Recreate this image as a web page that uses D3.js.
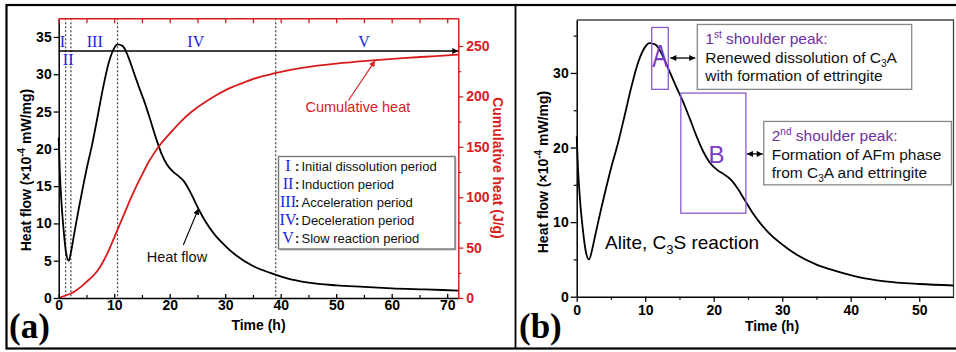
<!DOCTYPE html>
<html>
<head>
<meta charset="utf-8">
<script src="https://cdn.jsdelivr.net/npm/d3@7"></script>
<style>
  body { margin: 0; background: #fff; }
  svg { display: block; }
</style>
</head>
<body>
<svg id="chart" width="956" height="352"></svg>
<script>
// ---- data ----------------------------------------------------------
// Isothermal calorimetry of alite: heat flow (x10^-4 mW/mg) vs time (h)
const hours    = [0, 0.2, 0.5, 0.9, 1.3, 1.8, 2.3, 2.7, 3.2, 3.7, 4.3, 5, 6, 7, 8, 9, 10, 10.6, 11.5, 12.5,
                  13.5, 14.5, 15.5, 16.5, 17.5, 18.5, 19.5, 20.5, 21.5, 22.5, 23.5, 24.5, 25.5, 26.5, 28, 30,
                  32, 35, 38, 41, 45, 50, 55, 60, 66, 72];
const heatFlow = [21.5, 17, 12.8, 9.0, 6.2, 5.0, 6.5, 8.2, 10.3, 12.3, 14.6, 17.2, 20.5, 24.3, 28.2, 31.5, 33.5, 34.0, 33.8, 32.4,
                  30.3, 28.2, 26.2, 23.9, 21.5, 19.4, 17.9, 17.0, 16.4, 15.7, 14.5, 13.0, 11.5, 10.2, 8.6, 7.0,
                  5.7, 4.3, 3.4, 2.65, 2.05, 1.7, 1.5, 1.3, 1.15, 1.0];

// Cumulative heat (J/g) vs time (h)
const cumHours = [0, 1, 2.2, 3, 4, 5, 6, 7, 8, 9, 10, 11, 12, 13, 14, 15, 16, 17, 18, 20, 22, 24, 26, 28, 30,
                  33, 36, 39, 42, 46, 50, 56, 62, 68, 72];
const cumHeat  = [0, 2, 4.5, 7, 11, 16, 21, 27, 36, 47, 60, 73, 86, 99, 111, 122, 133, 142, 150, 163, 175, 185, 193, 200, 206,
                  213, 219, 223, 226.5, 230, 232.5, 235.5, 238, 240, 241.5];

// hydration period boundaries (h) and names
const periodBounds   = [1.25, 2.2, 10.6, 39.1];
const periodNumerals = ["I", "II", "III", "IV", "V"];
const periodNames    = ["Initial dissolution period", "Induction period", "Acceleration period",
                        "Deceleration period", "Slow reaction period"];

// tick values
const timeTicksA  = [0, 10, 20, 30, 40, 50, 60, 70];
const heatTicksA  = [0, 5, 10, 15, 20, 25, 30, 35];
const cumTicks    = [0, 50, 100, 150, 200, 250];
const timeTicksB  = [0, 10, 20, 30, 40, 50];
const heatTicksB  = [0, 10, 20, 30];

// ---- style ---------------------------------------------------------
const SANS  = '"Liberation Sans", Arial, Helvetica, sans-serif';
const SERIF = '"Liberation Serif", "Times New Roman", serif';
const RED = "#d81c1c";
const BLUE = "#2323e6";
const PURPLE = "#7030a0";
const BOXPURPLE = "#8a5cd0";

const svg = d3.select("#chart");
svg.append("rect").attr("width", 956).attr("height", 352).attr("fill", "#fff");

const defs = svg.append("defs");
function marker(id, color, w, h) {
  defs.append("marker")
    .attr("id", id)
    .attr("viewBox", "0 0 10 10")
    .attr("refX", 10).attr("refY", 5)
    .attr("markerWidth", w).attr("markerHeight", h)
    .attr("markerUnits", "userSpaceOnUse")
    .attr("orient", "auto-start-reverse")
    .append("path").attr("d", "M0,0L10,5L0,10Z").attr("fill", color);
}
marker("headBig", "#000", 10, 6);
marker("headSmall", "#000", 8, 6);
marker("headRed", RED, 8, 6);

function styleAxis(g, color) {
  g.attr("font-family", SANS).attr("font-size", 14).attr("font-weight", "bold");
  g.select(".domain").attr("stroke", color).attr("stroke-width", 1.5);
  g.selectAll(".tick line").attr("stroke", color).attr("stroke-width", 1.3);
  g.selectAll(".tick text").attr("fill", color);
}
function minorAxis(g, axis, color) {
  g.call(axis);
  g.select(".domain").remove();
  g.selectAll(".tick line").attr("stroke", color).attr("stroke-width", 1.2);
}

// "Heat flow (×10⁻⁴ mW/mg)" axis title
function heatTitle(g, x, y) {
  const t = g.append("text")
    .attr("transform", `translate(${x},${y}) rotate(-90)`)
    .attr("text-anchor", "middle")
    .attr("font-family", SANS).attr("font-size", 14).attr("font-weight", "bold")
    .attr("fill", "#000");
  t.append("tspan").text("Heat flow (\u00d710");
  t.append("tspan").attr("font-size", 10).attr("dy", -6).text("-4");
  t.append("tspan").attr("dy", 6).text(" mW/mg)");
}

// ---- outer frame -----------------------------------------------------
svg.append("rect").attr("x", 6.5).attr("y", 5).attr("width", 960).attr("height", 343.5)
  .attr("fill", "none").attr("stroke", "#000").attr("stroke-width", 2.2);
svg.append("line").attr("x1", 515.5).attr("x2", 515.5).attr("y1", 5).attr("y2", 348.5)
  .attr("stroke", "#000").attr("stroke-width", 1.8);

// ====================================================================
// Panel (a): heat flow + cumulative heat
// ====================================================================
const gA = svg.append("g");
const xA = d3.scaleLinear().domain([0, 72]).range([58.7, 458.3]);
const yA = d3.scaleLinear().domain([0, 37.5]).range([298, 18.3]);
const yC = d3.scaleLinear().domain([0, 277.5]).range([298, 18.3]);

// period boundaries
gA.selectAll(".bound").data(periodBounds).join("line")
  .attr("x1", d => xA(d)).attr("x2", d => xA(d))
  .attr("y1", yA.range()[1]).attr("y2", yA.range()[0])
  .attr("stroke", "#444").attr("stroke-width", 1.2).attr("stroke-dasharray", "2,2");

// period arrow
const arrowLevel = 33.1;
gA.append("line")
  .attr("x1", xA(0)).attr("x2", xA(72))
  .attr("y1", yA(arrowLevel)).attr("y2", yA(arrowLevel))
  .attr("stroke", "#000").attr("stroke-width", 1.5)
  .attr("marker-end", "url(#headBig)");

// period numerals along the arrow
const numeralTimes = [0.65, 1.7, 6.5, 24.7, 55];
const numeralBelow = [false, true, false, false, false];
gA.selectAll(".numeral").data(periodNumerals).join("text")
  .attr("x", (d, i) => xA(numeralTimes[i]))
  .attr("y", (d, i) => yA(arrowLevel) + (numeralBelow[i] ? 13.5 : -4.5))
  .attr("text-anchor", "middle")
  .attr("font-family", SERIF).attr("font-size", 16)
  .attr("fill", BLUE)
  .text(d => d);

// curves
const heatLineA = d3.line()
  .x((d, i) => xA(hours[i])).y(d => yA(d))
  .curve(d3.curveMonotoneX);
gA.append("path").attr("d", heatLineA(heatFlow))
  .attr("fill", "none").attr("stroke", "#000").attr("stroke-width", 1.8);

const cumLine = d3.line()
  .x((d, i) => xA(cumHours[i])).y(d => yC(d))
  .curve(d3.curveMonotoneX);
gA.append("path").attr("d", cumLine(cumHeat))
  .attr("fill", "none").attr("stroke", RED).attr("stroke-width", 1.8);

// axes
const axBottomA = gA.append("g").attr("transform", `translate(0,${yA(0)})`)
  .call(d3.axisBottom(xA).tickValues(timeTicksA).tickSizeInner(-4).tickSizeOuter(0).tickPadding(2));
styleAxis(axBottomA, "#000");
minorAxis(gA.append("g").attr("transform", `translate(0,${yA(0)})`),
  d3.axisBottom(xA).tickValues(d3.range(5, 72, 10)).tickSize(-3).tickFormat(""), "#000");

const axLeftA = gA.append("g").attr("transform", `translate(${xA(0)},0)`)
  .call(d3.axisLeft(yA).tickValues(heatTicksA).tickSizeInner(5).tickSizeOuter(0).tickPadding(2));
styleAxis(axLeftA, "#000");

const axTopA = gA.append("g").attr("transform", `translate(0,${yA.range()[1]})`)
  .call(d3.axisTop(xA).tickValues(d3.range(0, 72, 5)).tickSizeInner(-5).tickSizeOuter(0).tickFormat(""));
styleAxis(axTopA, RED);

const axRightA = gA.append("g").attr("transform", `translate(${xA(72)},0)`)
  .call(d3.axisRight(yC).tickValues(cumTicks).tickSizeInner(5).tickSizeOuter(0).tickPadding(3));
styleAxis(axRightA, RED);
minorAxis(gA.append("g").attr("transform", `translate(${xA(72)},0)`),
  d3.axisRight(yC).tickValues(d3.range(25, 250, 50)).tickSize(3).tickFormat(""), RED);

// axis titles
heatTitle(gA, 31, 170);
gA.append("text")
  .attr("x", (xA(0) + xA(72)) / 2).attr("y", 330)
  .attr("text-anchor", "middle")
  .attr("font-family", SANS).attr("font-size", 14).attr("font-weight", "bold")
  .text("Time (h)");
gA.append("text")
  .attr("transform", `translate(493,168) rotate(90)`)
  .attr("text-anchor", "middle")
  .attr("font-family", SANS).attr("font-size", 14).attr("font-weight", "bold")
  .attr("fill", RED)
  .text("Cumulative heat (J/g)");

// curve labels with pointers
gA.append("text")
  .attr("x", xA(21.3)).attr("y", yA(4.8))
  .attr("text-anchor", "middle")
  .attr("font-family", SANS).attr("font-size", 14.5).attr("fill", "#111")
  .text("Heat flow");
gA.append("line")
  .attr("x1", xA(22.45)).attr("y1", yA(7.1))
  .attr("x2", xA(25.2)).attr("y2", yA(12.0))
  .attr("stroke", "#000").attr("stroke-width", 1.1)
  .attr("marker-end", "url(#headSmall)");

gA.append("text")
  .attr("x", xA(53.9)).attr("y", yC(184.5))
  .attr("text-anchor", "middle")
  .attr("font-family", SANS).attr("font-size", 14.5).attr("fill", RED)
  .text("Cumulative heat");
gA.append("line")
  .attr("x1", xA(52.2)).attr("y1", yC(196))
  .attr("x2", xA(57)).attr("y2", yC(235.5))
  .attr("stroke", RED).attr("stroke-width", 1.1)
  .attr("marker-end", "url(#headRed)");

// legend of periods
const legend = gA.append("g").attr("transform", "translate(278.5,156.5)");
legend.append("rect").attr("x", 1.5).attr("y", 1.5).attr("width", 176.5).attr("height", 92.5)
  .attr("fill", "#bbb");
legend.append("rect").attr("width", 176.5).attr("height", 92.5)
  .attr("fill", "#fff").attr("stroke", "#777").attr("stroke-width", 1.4);
const rows = legend.selectAll(".row").data(periodNames).join("g")
  .attr("transform", (d, i) => `translate(0,${14 + i * 18})`);
rows.append("text").attr("x", 9.5).attr("text-anchor", "middle")
  .attr("font-family", SERIF).attr("font-size", 16).attr("fill", BLUE)
  .text((d, i) => periodNumerals[i]);
rows.append("text").attr("x", 16.5)
  .attr("font-family", SANS).attr("font-size", 13).attr("font-weight", "bold").attr("fill", "#111")
  .text(":");
rows.append("text").attr("x", 23)
  .attr("font-family", SANS).attr("font-size", 13).attr("fill", "#111")
  .text(d => d);

// panel letter
gA.append("text").attr("x", 9).attr("y", 338)
  .attr("font-family", SERIF).attr("font-size", 35).attr("font-weight", "bold")
  .text("(a)");

// ====================================================================
// Panel (b): heat flow with shoulder peaks
// ====================================================================
const gB = svg.append("g");
const xB = d3.scaleLinear().domain([0, 55]).range([576.7, 953.5]);
const yB = d3.scaleLinear().domain([0, 37.1]).range([296.7, 20]);

// frame (top / right)
gB.append("path")
  .attr("d", `M${xB(0)},${yB(37.1)}H${xB(55)}V${yB(0)}`)
  .attr("fill", "none").attr("stroke", "#444").attr("stroke-width", 1.3);

const heatLineB = d3.line()
  .defined((d, i) => hours[i] <= 55)
  .x((d, i) => xB(hours[i])).y(d => yB(d))
  .curve(d3.curveMonotoneX);
gB.append("path").attr("d", heatLineB(heatFlow))
  .attr("fill", "none").attr("stroke", "#000").attr("stroke-width", 1.8);

const axBottomB = gB.append("g").attr("transform", `translate(0,${yB(0)})`)
  .call(d3.axisBottom(xB).tickValues(timeTicksB).tickSizeInner(5).tickSizeOuter(0).tickPadding(3));
styleAxis(axBottomB, "#000");
minorAxis(gB.append("g").attr("transform", `translate(0,${yB(0)})`),
  d3.axisBottom(xB).tickValues(d3.range(5, 55, 10)).tickSize(3).tickFormat(""), "#000");

const axLeftB = gB.append("g").attr("transform", `translate(${xB(0)},0)`)
  .call(d3.axisLeft(yB).tickValues(heatTicksB).tickSizeInner(6).tickSizeOuter(0).tickPadding(2));
styleAxis(axLeftB, "#000");
minorAxis(gB.append("g").attr("transform", `translate(${xB(0)},0)`),
  d3.axisLeft(yB).tickValues([5, 15, 25, 35]).tickSize(3).tickFormat(""), "#000");

heatTitle(gB, 548, 172);
gB.append("text")
  .attr("x", 772).attr("y", 331)
  .attr("text-anchor", "middle")
  .attr("font-family", SANS).attr("font-size", 14).attr("font-weight", "bold")
  .text("Time (h)");

// shoulder regions (time range, heat-flow range)
const shoulderA = { t0: 10.95, t1: 13.37, v0: 27.8, v1: 36.1 };
const shoulderB = { t0: 15.2,  t1: 24.7,  v0: 11.2, v1: 27.3 };
[shoulderA, shoulderB].forEach(s => {
  gB.append("rect")
    .attr("x", xB(s.t0)).attr("y", yB(s.v1))
    .attr("width", xB(s.t1) - xB(s.t0)).attr("height", yB(s.v0) - yB(s.v1))
    .attr("fill", "none").attr("stroke", BOXPURPLE).attr("stroke-width", 1.3);
});
gB.append("text")
  .attr("x", xB(shoulderA.t0) + 0.5).attr("y", yB(30.8))
  .attr("font-family", SANS).attr("font-size", 32).attr("fill", "#7a3cc0")
  .attr("textLength", xB(shoulderA.t1) - xB(shoulderA.t0) - 1)
  .attr("lengthAdjust", "spacingAndGlyphs")
  .text("A");
gB.append("text")
  .attr("x", xB(20.4)).attr("y", yB(17.9))
  .attr("text-anchor", "middle")
  .attr("font-family", SANS).attr("font-size", 24).attr("fill", "#7a3cc0")
  .text("B");

// explanation boxes
const note1 = { t0: 17.6, t1: 48.9, v0: 27.8, v1: 36.5 };
const note2 = { t0: 27.3, t1: 54.7, v0: 15.0, v1: 23.5 };
[note1, note2].forEach(n => {
  gB.append("rect")
    .attr("x", xB(n.t0)).attr("y", yB(n.v1))
    .attr("width", xB(n.t1) - xB(n.t0)).attr("height", yB(n.v0) - yB(n.v1))
    .attr("fill", "#fff").attr("stroke", "#888").attr("stroke-width", 1.3);
});

function noteText(n, lines) {
  const x = xB(n.t0) + 8, top = yB(n.v1);
  const offsets = [20, 39, 57];
  lines.forEach((parts, i) => {
    const t = gB.append("text").attr("x", x).attr("y", top + offsets[i])
      .attr("font-family", SANS).attr("font-size", 15.5)
      .attr("fill", i === 0 ? PURPLE : "#111");
    parts.forEach(p => {
      const s = t.append("tspan").text(p.s);
      if (p.sup) s.attr("font-size", 10).attr("dy", -6);
      if (p.sub) s.attr("font-size", 10).attr("dy", 4);
      if (p.back) s.attr("dy", p.back);
    });
  });
}
noteText(note1, [
  [{ s: "1" }, { s: "st", sup: true }, { s: " shoulder peak:", back: 6 }],
  [{ s: "Renewed dissolution of C" }, { s: "3", sub: true }, { s: "A", back: -4 }],
  [{ s: "with formation of ettringite" }]
]);
noteText(note2, [
  [{ s: "2" }, { s: "nd", sup: true }, { s: " shoulder peak:", back: 6 }],
  [{ s: "Formation of AFm phase" }],
  [{ s: "from C" }, { s: "3", sub: true }, { s: "A and ettringite", back: -4 }]
]);

// double arrows linking regions to notes
function doubleArrow(x1, x2, y) {
  gB.append("line").attr("x1", x1).attr("x2", x2).attr("y1", y).attr("y2", y)
    .attr("stroke", "#000").attr("stroke-width", 1.3)
    .attr("marker-start", "url(#headSmall)").attr("marker-end", "url(#headSmall)");
}
doubleArrow(xB(shoulderA.t1) + 2, xB(note1.t0) - 2, yB(32.0));
doubleArrow(xB(shoulderB.t1) + 1, xB(note2.t0) - 1, yB(19.15));

// sample label
const lab = gB.append("text").attr("x", 605).attr("y", 249)
  .attr("font-family", SANS).attr("font-size", 19).attr("fill", "#000");
lab.append("tspan").text("Alite, C");
lab.append("tspan").attr("font-size", 13).attr("dy", 5).text("3");
lab.append("tspan").attr("dy", -5).text("S reaction");

gB.append("text").attr("x", 519).attr("y", 338)
  .attr("font-family", SERIF).attr("font-size", 35).attr("font-weight", "bold")
  .text("(b)");
</script>
</body>
</html>
